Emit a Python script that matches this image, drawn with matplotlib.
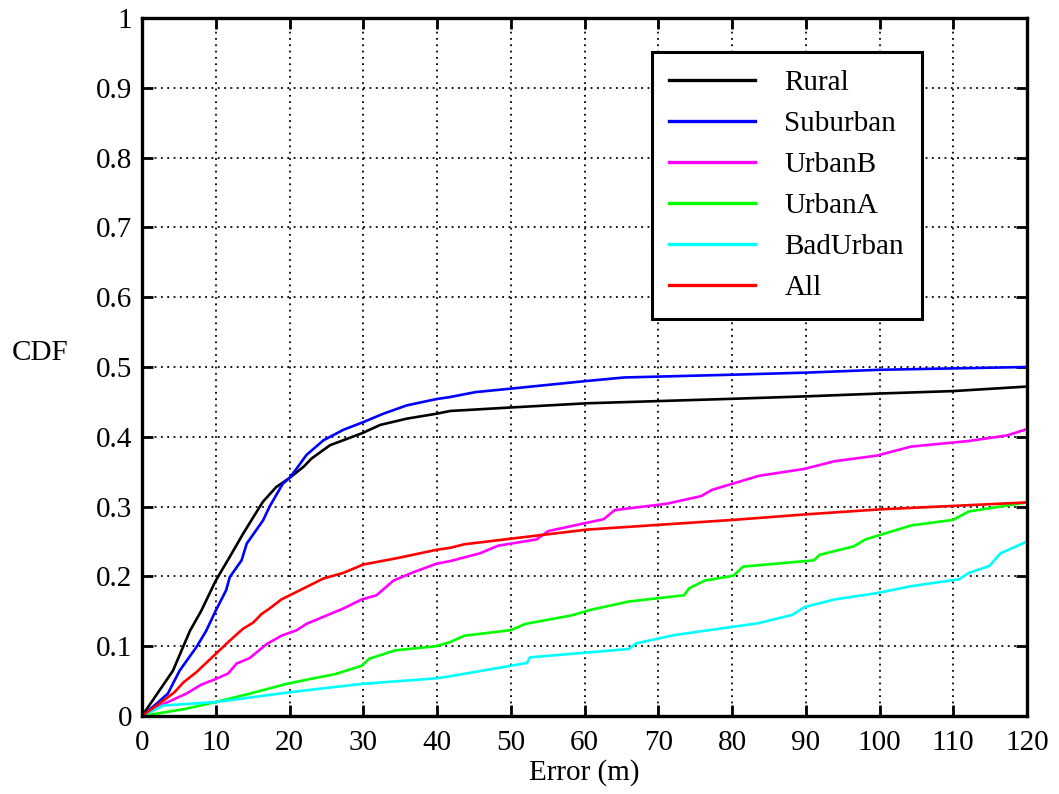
import numpy as np
import matplotlib
matplotlib.use("Agg")
import matplotlib.pyplot as plt

plt.rcParams['font.family'] = ['Liberation Serif', 'DejaVu Serif']

# values (error in m, CDF)
rural_x = [0, 4.2, 6.5, 8.05, 10, 11.9, 13.7, 15.1, 16.4, 18.2, 20, 21.9, 23, 25.5, 29.8, 32.3, 35.9, 39.9,
           41.8, 50, 60.3, 80.2, 90.2, 100, 110, 120]
rural_y = [0, 0.065, 0.122, 0.151, 0.194, 0.228, 0.261, 0.285, 0.307, 0.328, 0.341, 0.357, 0.369, 0.388, 0.405,
           0.417, 0.426, 0.433, 0.437, 0.442, 0.448, 0.4545, 0.458, 0.462, 0.4655, 0.472]

suburban_x = [0, 1.9, 3.5, 5.1, 7.4, 8.7, 10, 11.4, 11.9, 13.5, 14.2, 16.4, 17.3, 19.1, 20, 21, 22.3, 24.6, 27.3,
              30, 32.7, 35.9, 39.9, 41.8, 45.2, 50, 60.3, 65.4, 80.2, 90.2, 100, 110, 120]
suburban_y = [0, 0.017, 0.032, 0.065, 0.099, 0.122, 0.151, 0.18, 0.199, 0.223, 0.247, 0.28, 0.3, 0.333, 0.341,
              0.355, 0.374, 0.395, 0.41, 0.421, 0.433, 0.445, 0.454, 0.457, 0.464, 0.469, 0.48, 0.485, 0.489,
              0.492, 0.496, 0.498, 0.5]

urbanb_x = [0, 2.9, 6, 8.05, 10, 11.7, 12.8, 14.6, 16.9, 18.9, 21, 22.3, 27.3, 29.8, 31.8, 34.1, 36.8, 39.9,
            41.8, 45.8, 48.3, 53.5, 55.1, 62.6, 64.1, 71.1, 75.8, 77.3, 83.6, 89.8, 93.9, 99.6, 104.3, 112.1,
            117.3, 120]
urbanb_y = [0, 0.017, 0.032, 0.045, 0.053, 0.061, 0.075, 0.083, 0.103, 0.115, 0.123, 0.132, 0.154, 0.167, 0.173,
            0.194, 0.206, 0.218, 0.222, 0.233, 0.244, 0.253, 0.265, 0.282, 0.295, 0.304, 0.315, 0.324, 0.344,
            0.354, 0.365, 0.373, 0.386, 0.394, 0.402, 0.411]

urbana_x = [0, 5.8, 10, 14.6, 19.6, 22.8, 26.2, 29.8, 30.8, 34.3, 39.9, 41.8, 43.7, 50, 52, 58.2, 60.8, 66,
            73.5, 74.2, 76.3, 80.2, 81.5, 91.1, 91.9, 96.5, 98.1, 104.3, 110, 112.1, 120]
urbana_y = [0, 0.01, 0.02, 0.032, 0.046, 0.053, 0.06, 0.072, 0.082, 0.094, 0.1, 0.106, 0.115, 0.123, 0.132,
            0.144, 0.152, 0.164, 0.173, 0.183, 0.194, 0.201, 0.214, 0.223, 0.231, 0.243, 0.253, 0.273, 0.281,
            0.293, 0.306]

badurban_x = [0, 2.9, 10, 20, 29.8, 39.9, 41.8, 50, 52.2, 52.6, 66, 67, 72.2, 83.6, 88.2, 89.8, 93.9, 99.6,
              104.3, 110.8, 112.1, 114.9, 116.4, 120]
badurban_y = [0, 0.015, 0.02, 0.034, 0.046, 0.054, 0.057, 0.072, 0.076, 0.084, 0.096, 0.104, 0.116, 0.133,
              0.145, 0.156, 0.167, 0.176, 0.186, 0.196, 0.205, 0.215, 0.233, 0.25]

all_x = [0, 2.9, 4.4, 5.6, 7.4, 10, 11.9, 13.7, 15.1, 16.2, 17.3, 18.9, 21, 24.6, 27.3, 30, 34.5, 39.9, 41.8,
         43.7, 50, 60.3, 80.2, 90.2, 100, 110, 120]
all_y = [0, 0.022, 0.034, 0.048, 0.063, 0.089, 0.108, 0.125, 0.134, 0.146, 0.154, 0.167, 0.178, 0.197, 0.205,
         0.217, 0.226, 0.238, 0.241, 0.246, 0.254, 0.267, 0.281, 0.289, 0.296, 0.301, 0.306]

series = [
    ("Rural", rural_x, rural_y, "#000000"),
    ("Suburban", suburban_x, suburban_y, "#0000ff"),
    ("UrbanB", urbanb_x, urbanb_y, "#ff00ff"),
    ("UrbanA", urbana_x, urbana_y, "#00ff00"),
    ("BadUrban", badurban_x, badurban_y, "#00ffff"),
    ("All", all_x, all_y, "#ff0000"),
]

fs = 21

fig = plt.figure(figsize=(10.59, 7.94), dpi=100)
ax = fig.add_axes([142 / 1059, 1 - 716 / 794, 885 / 1059, 698 / 794])

for name, xs, ys, col in series:
    ax.plot(xs, ys, color=col, lw=1.9, label=name)

ax.set_xlim(0, 120)
ax.set_ylim(0, 1)
ax.set_xticks(np.arange(0, 121, 10))
ax.set_yticks(np.arange(0, 1.01, 0.1))
ax.set_yticklabels(["0", "0.1", "0.2", "0.3", "0.4", "0.5", "0.6", "0.7", "0.8", "0.9", "1"])
ax.grid(True, color="k", linestyle=(0, (1, 2.5)), linewidth=1.3)
ax.tick_params(direction="in", length=8, width=2, top=True, right=True, labelsize=fs, pad=7)
ax.tick_params(axis="x", pad=10)
for sp in ax.spines.values():
    sp.set_linewidth(2.4)

ax.set_xlabel("Error (m)", fontsize=fs, labelpad=2)
ax.set_ylabel("CDF", fontsize=fs, rotation=0, va="center", ha="center")
ax.yaxis.set_label_coords(-0.115, 0.52)

leg = ax.legend(loc="upper left", bbox_to_anchor=(0.576, 0.951), borderaxespad=0, fontsize=fs,
                handlelength=2.95, handletextpad=1.0, labelspacing=0.5, borderpad=0.6,
                fancybox=False, framealpha=1, edgecolor="k")
leg.get_frame().set_linewidth(2.2)
for ln in leg.get_lines():
    ln.set_linewidth(2.4)

fig.savefig("out.png", dpi=100)
